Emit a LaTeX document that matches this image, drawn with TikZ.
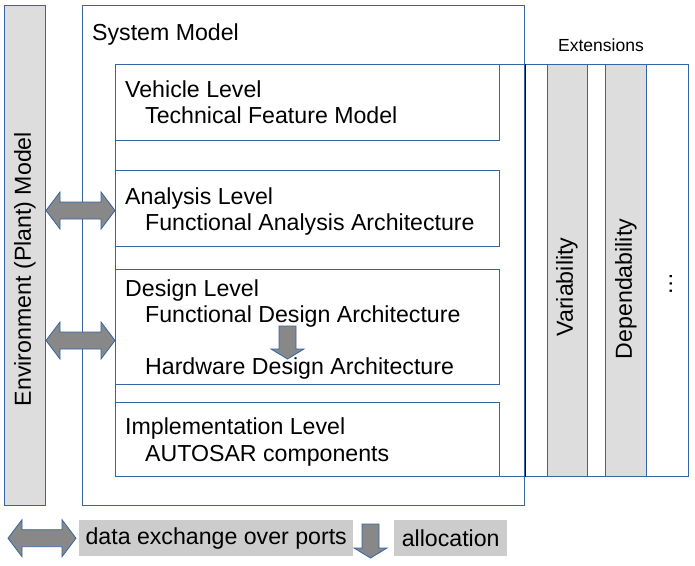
\documentclass[tikz,border=0pt]{standalone}
\usepackage{fontspec}
\setmainfont{Liberation Sans}
\usetikzlibrary{positioning, calc}
\definecolor{lineblue}{RGB}{52,101,164}
\definecolor{boxgray}{RGB}{221,221,221}
\definecolor{legendgray}{RGB}{204,204,204}
\definecolor{arrowgray}{RGB}{136,136,136}
\newcommand{\bigfont}{\fontsize{23.15pt}{26pt}\selectfont}
\newcommand{\smallfont}{\fontsize{17.5pt}{20pt}\selectfont}
\tikzstyle{frame} = [rectangle, draw=lineblue, line width=1pt, anchor=north west, inner sep=0pt]
\tikzstyle{grayframe} = [frame, fill=boxgray]
\tikzstyle{levelbox} = [frame, fill=white, minimum width=384pt]
\tikzstyle{lvltext} = [anchor=base west, inner sep=0pt, font=\bigfont]
\tikzstyle{sidetext} = [rotate=90, inner sep=0pt, font=\bigfont]
\tikzstyle{legendbox} = [rectangle, fill=legendgray, anchor=north west, inner sep=0pt, font=\bigfont]
\tikzstyle{fatarrow} = [fill=arrowgray, draw=lineblue, line width=0.8pt, line join=miter]
\newcommand{\fatbiarrow}[2]{%
  \filldraw [fatarrow] (#1) -- ++(14,-18.5) -- ++(0,10) -- ($(#2)+(-14,-8.5)$) -- ++(0,-10) -- (#2) -- ++(-14,18.5) -- ++(0,-10) -- ($(#1)+(14,8.5)$) -- ++(0,10) -- cycle;}
\newcommand{\fatdownarrow}[2]{%
  \filldraw [fatarrow] ($(#1)+(-8.5,0)$) -- ($(#2)+(-8.5,-10)$) -- ++(-8,0) -- (#2) -- ++(16.5,-10) -- ++(-8,0) -- ($(#1)+(8.5,0)$) -- cycle;}

\begin{document}
\begin{tikzpicture}[x=1pt, y=-1pt]
    \useasboundingbox (0,0) rectangle (695,565);

    % models
    \node (env) [grayframe, minimum width=41pt, minimum height=500pt] at (4,5) {};
    \node (sys) [frame, minimum width=442pt, minimum height=500pt] at (82,5) {};
    \node (ext) [frame, minimum width=573pt, minimum height=412pt] at (115,64) {};
    \draw [black, line width=1pt] (sys.east |- ext.north) -- (sys.east |- ext.south);
    \node (envtext) [sidetext] at (25,269) {Environment (Plant) Model};
    \node (systext) [lvltext] at (92,40) {System Model};
    \node (exttext) [anchor=base, inner sep=0pt, font=\smallfont] at (601,51) {Extensions};

    % levels
    \node (veh) [levelbox, minimum height=76pt] at (115,64) {};
    \node (ana) [levelbox, minimum height=76pt] at (115,170) {};
    \node (des) [levelbox, minimum height=115pt] at (115,269) {};
    \node (imp) [levelbox, minimum height=74pt] at (115,402) {};

    \node (vehname) [lvltext] at ($(veh.north west)+(10,33)$) {Vehicle Level};
    \node (vehart) [lvltext] at ($(veh.north west)+(30,59)$) {Technical Feature Model};
    \node (ananame) [lvltext] at ($(ana.north west)+(10,34)$) {Analysis Level};
    \node (anaart) [lvltext] at ($(ana.north west)+(30,60)$) {Functional Analysis Architecture};
    \node (desname) [lvltext] at ($(des.north west)+(10,27)$) {Design Level};
    \node (desfun) [lvltext] at ($(des.north west)+(30,53)$) {Functional Design Architecture};
    \node (deshw) [lvltext] at ($(des.north west)+(30,105)$) {Hardware Design Architecture};
    \node (impname) [lvltext] at ($(imp.north west)+(10,32)$) {Implementation Level};
    \node (impart) [lvltext] at ($(imp.north west)+(30,59)$) {AUTOSAR components};

    % extensions
    \node (var) [grayframe, minimum width=40pt, minimum height=412pt] at (547,64) {};
    \node (dep) [grayframe, minimum width=41pt, minimum height=412pt] at (605,64) {};
    \node (vartext) [sidetext] at (567,287) {Variability};
    \node (deptext) [sidetext] at (626,289) {Dependability};
    \node (more) [sidetext] at (671,284) {\dots};

    % exchange and allocation
    \coordinate (anaL) at ($(env.east |- ana.west)+(0,2)$);
    \coordinate (anaR) at ($(ana.west)+(0,2)$);
    \coordinate (desL) at ($(env.east |- des.west)+(0,13.5)$);
    \coordinate (desR) at ($(des.west)+(0,13.5)$);
    \fatbiarrow{anaL}{anaR}
    \fatbiarrow{desL}{desR}
    \coordinate (allocA) at (287.5,326);
    \coordinate (allocB) at (287.5,359);
    \fatdownarrow{allocA}{allocB}

    % legend
    \node (dx) [legendbox, minimum width=274pt, minimum height=36pt] at (79,520) {data exchange over ports};
    \node (alloc) [legendbox, minimum width=113pt, minimum height=36pt] at (394,520) {allocation};
    \coordinate (legL) at ($(dx.west)+(-71,0)$);
    \coordinate (legR) at ($(dx.west)+(-3,0)$);
    \fatbiarrow{legL}{legR}
    \coordinate (legA) at (370.5,524);
    \coordinate (legB) at (370.5,558);
    \fatdownarrow{legA}{legB}
\end{tikzpicture}
\end{document}
